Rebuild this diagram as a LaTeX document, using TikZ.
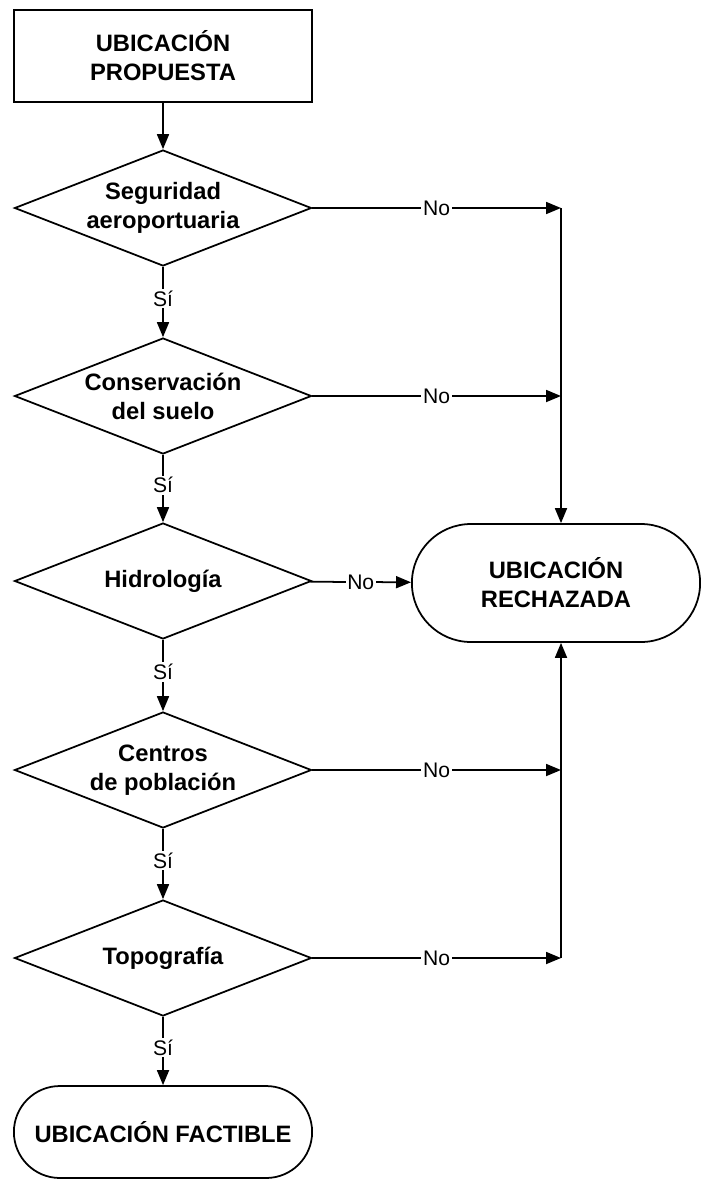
\documentclass[tikz,border=0pt]{standalone}
\usepackage{fontspec}
\setmainfont{Liberation Sans}
\usetikzlibrary{shapes.geometric,shapes.misc,arrows.meta}

\begin{document}
\begin{tikzpicture}[x=0.02cm, y=-0.02cm,
    every path/.style={line width=1pt},
    flecha/.style={-{Triangle[length=0.3cm,width=0.24cm]}},
    caja/.style={rectangle, draw, align=center, font=\bfseries\fontsize{13.5}{16.5}\selectfont,
        minimum width=5.96cm, minimum height=1.84cm},
    decision/.style={diamond, draw, align=center, inner sep=0pt, aspect=2.56,
        font=\bfseries\fontsize{13.5}{16.5}\selectfont,
        minimum width=5.94cm, minimum height=2.32cm},
    terminal/.style={rounded rectangle, draw, align=center, font=\bfseries\fontsize{13.5}{16.5}\selectfont},
    etiqueta/.style={fill=white, inner sep=1pt, font=\fontsize{12}{14}\selectfont}]
    \useasboundingbox (0,0) rectangle (700,1180);

    \node[caja] (propuesta) at (163,56) {UBICACIÓN\\PROPUESTA};
    \node[decision] (seguridad) at (163,208) {Seguridad\\aeroportuaria};
    \node[decision] (suelo) at (163,396) {Conservación\\del suelo};
    \node[decision] (hidro) at (163,581) {Hidrología};
    \node[decision] (centros) at (163,770) {Centros\\de población};
    \node[decision] (topo) at (163,958) {Topografía};
    \node[terminal, minimum width=6.2cm, minimum height=1.84cm] (factible) at (163,1132) {UBICACIÓN FACTIBLE};
    \node[terminal, minimum width=6.0cm, minimum height=2.36cm] (rechazada) at (556,583) {UBICACIÓN\\RECHAZADA};

    \coordinate (c1) at (561,208);
    \coordinate (c2) at (561,396);
    \coordinate (c4) at (561,770);
    \coordinate (c5) at (561,958);

    % camino del si
    \draw[flecha] (propuesta) -- (seguridad);
    \draw[flecha] (seguridad) -- node[etiqueta, pos=0.45] {Sí} (suelo);
    \draw[flecha] (suelo) -- node[etiqueta, pos=0.45] {Sí} (hidro);
    \draw[flecha] (hidro) -- node[etiqueta, pos=0.45] {Sí} (centros);
    \draw[flecha] (centros) -- node[etiqueta, pos=0.45] {Sí} (topo);
    \draw[flecha] (topo) -- node[etiqueta, pos=0.45] {Sí} (factible);

    % camino del no
    \draw[flecha] (seguridad) -- node[etiqueta] {No} (c1);
    \draw[flecha] (suelo) -- node[etiqueta] {No} (c2);
    \draw[flecha] (hidro) -- node[etiqueta] {No} (rechazada);
    \draw[flecha] (centros) -- node[etiqueta] {No} (c4);
    \draw[flecha] (topo) -- node[etiqueta] {No} (c5);
    \draw[flecha] (c1) -- (c1 |- rechazada.north);
    \draw[flecha] (c5) -- (c5 |- rechazada.south);
\end{tikzpicture}
\end{document}
